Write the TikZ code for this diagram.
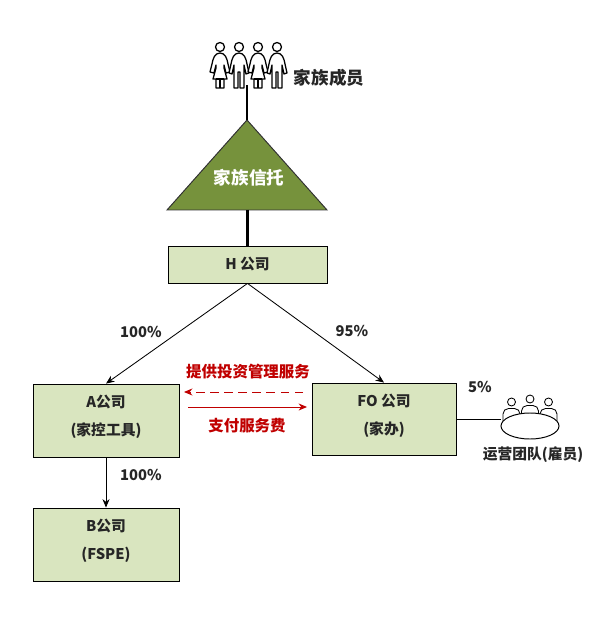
\documentclass[tikz,border=0pt]{standalone}
\usepackage{fontspec}
\setmainfont{Noto Sans CJK SC}
\usepackage{xcolor}
\usetikzlibrary{arrows.meta,arrows,shapes}
\definecolor{boxgreen}{HTML}{D9E5BF}
\definecolor{trustgreen}{HTML}{76923C}
\definecolor{svcred}{HTML}{C00000}
\newcommand{\labelfont}{\fontsize{10.5}{12}\selectfont\bfseries}
\newcommand{\titlefont}{\fontsize{12.5}{15}\selectfont\bfseries}
\newcommand{\svcfont}{\fontsize{11}{13}\selectfont\bfseries}
\tikzset{
  company/.style={draw=black,fill=boxgreen,line width=0.6pt,align=center,font=\labelfont,text=black!85,inner sep=0pt},
  tag/.style={font=\labelfont,text=black!85,inner sep=0pt},
  svc/.style={font=\svcfont,text=svcred,inner sep=0pt},
  own/.style={-{Stealth[length=6pt,width=5pt]},line width=0.6pt},
  stem/.style={line width=1.7pt},
  svcline/.style={-{Stealth[length=6pt,width=5pt]},svcred,line width=0.6pt},
  woman/.pic={
    \draw[line width=0.9pt](0,0)circle(4.5);
    \draw[line width=0.9pt,line join=round,fill=white](0,6)to[out=180,in=80](-8,17)--(-10,25)--(-6,26)--(-4,18)--(-4,21)--(-7,32)--(-4,32)--(-4,41)--(4,41)--(4,32)--(7,32)--(4,21)--(4,18)--(6,26)--(10,25)--(8,17)to[out=100,in=0]cycle;
    \draw[line width=0.9pt](-4,32)--(4,32)(0,32)--(0,41);
  },
  man/.pic={
    \draw[line width=0.9pt](0,0)circle(4.5);
    \draw[line width=0.9pt,line join=round,fill=white](0,6)to[out=180,in=80](-8,17)--(-10,26)--(-7,27)--(-5,18)--(-5,41)--(-1,41)--(-1,25)--(1,25)--(1,41)--(5,41)--(5,18)--(7,27)--(10,26)--(8,17)to[out=100,in=0]cycle;
  },
  sitter/.pic={
    \draw[line width=0.6pt,fill=white](0,0)circle(4);
    \draw[line width=0.6pt,fill=white](-8.5,20)--(-8.5,12)to[out=90,in=180](-3,6.5)--(3,6.5)to[out=0,in=90](8.5,12)--(8.5,20);
  }
}
\begin{document}
\begin{tikzpicture}[x=0.025cm,y=-0.025cm,=>stealth]
\useasboundingbox(0,0)rectangle(600,622);
\coordinate (top) at (247,85);
\coordinate (apex) at (247,120);
\coordinate (baseL) at (167,210);
\coordinate (baseR) at (327,210);
\coordinate (base) at (247.5,210);
\draw[draw=black!80,fill=trustgreen,line width=0.7pt](apex)--(baseR)--(baseL)--cycle;
\pic at (220,47){woman};
\pic at (239,47){man};
\pic at (258,47){woman};
\pic at (277,47){man};
\draw[stem](top)--(apex);
\node[tag,font=\titlefont] (members) at (329,78){家族成员};
\node[tag,text=white,font=\titlefont] (trust) at (249,178){家族信托};
\node[company,minimum width=3.975cm,minimum height=0.925cm] (H) at (247.5,264.5){H 公司};
\draw[stem](base)--(H.north);
\node[company,minimum width=3.65cm,minimum height=1.825cm] (A) at (106,420.5){A公司\\[8pt](家控工具)\\[-5pt]\mbox{}};
\node[company,minimum width=3.6cm,minimum height=1.8cm] (FO) at (384,419){FO 公司\\[8pt](家办)\\[-5pt]\mbox{}};
\node[company,minimum width=3.65cm,minimum height=1.825cm] (B) at (106,544.5){B公司\\[8pt](FSPE)\\[-5pt]\mbox{}};
\draw[own](H.south)--(A.north);
\draw[own](H.south)--(FO.north);
\draw[own](A.south)--(B.north);
\node[tag] (pa) at (141,332){100\%};
\node[tag] (pf) at (352,331){95\%};
\node[tag] (pb) at (141,475){100\%};
\node[tag] (pt) at (480,387){5\%};
\node[svc] (serve) at (248,372){提供投资管理服务};
\node[svc] (fee) at (247,426){支付服务费};
\coordinate (d1) at (303,392);
\coordinate (d2) at (184,392);
\coordinate (s1) at (188,407);
\coordinate (s2) at (307,407);
\draw[svcline,dash pattern=on 6pt off 4pt](d1)--(d2);
\draw[svcline](s1)--(s2);
\pic at (511.5,402){sitter};
\pic at (548.5,402){sitter};
\pic at (530,399){sitter};
\node[draw=black,fill=white,ellipse,line width=0.7pt,minimum width=1.45cm,minimum height=0.65cm,inner sep=0pt] (table) at (530,426){};
\draw[line width=0.6pt](FO.east)--(FO.east-|table.west);
\node[tag] (staff) at (533,455){运营团队(雇员)};
\end{tikzpicture}
\end{document}
